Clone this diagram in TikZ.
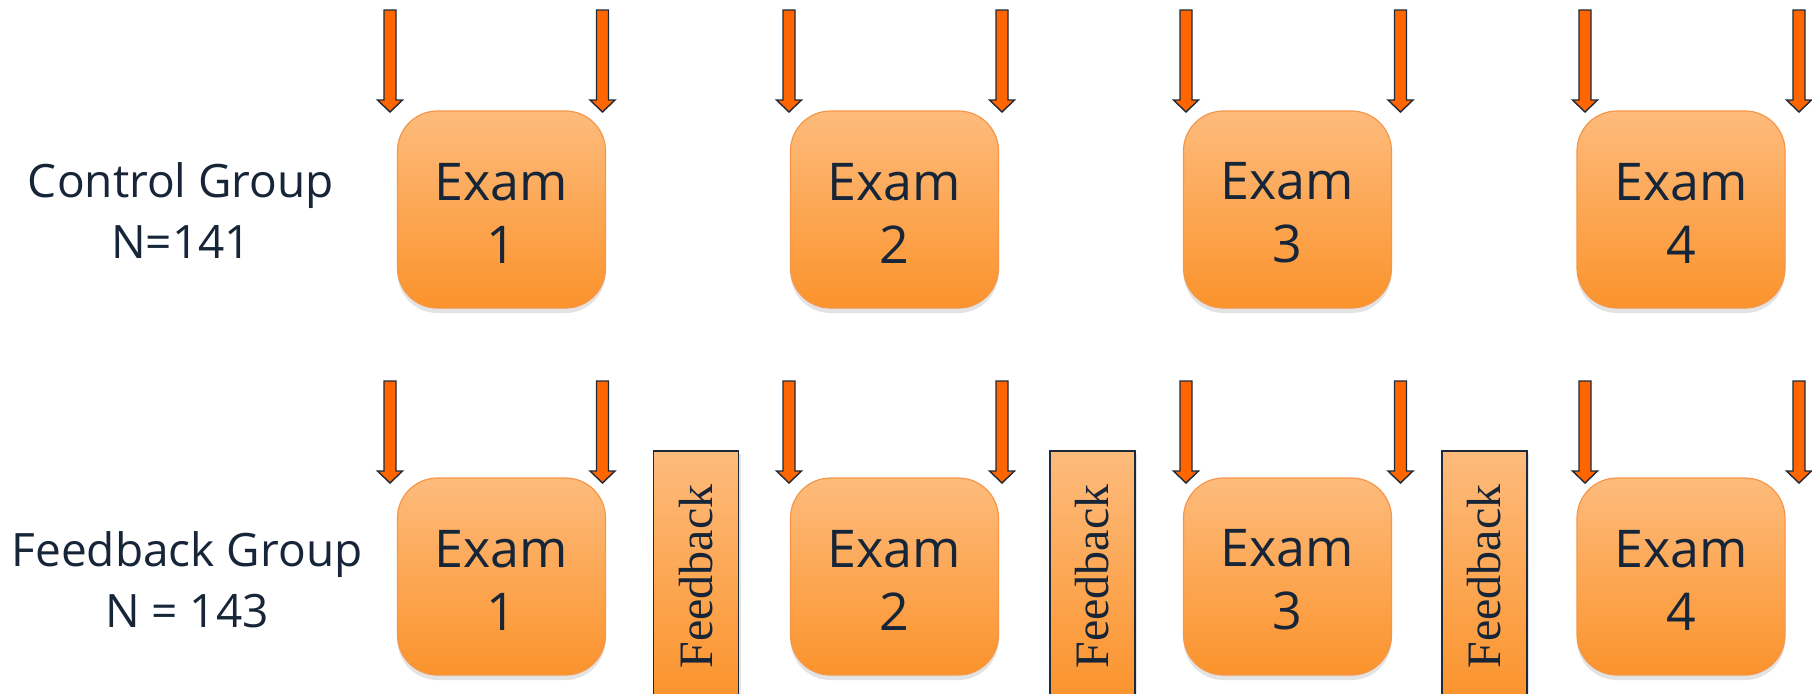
\documentclass[tikz,border=0pt]{standalone}
\usepackage{fontspec}
\setmainfont{Open Sans}
\newfontfamily\fbfont{Liberation Serif}
\usetikzlibrary{shadows}

\definecolor{ink}{RGB}{23,37,56}
\definecolor{examtop}{RGB}{253,187,124}
\definecolor{exambot}{RGB}{251,147,44}
\definecolor{examedge}{RGB}{246,150,72}
\definecolor{arrowfill}{RGB}{255,102,0}
\definecolor{arrowedge}{RGB}{30,42,58}

% two-line exam caption; the strut lowers the text a little inside the box
\newcommand\examcaption[1]{\rule{0pt}{22.2pt}Exam\\#1}

\tikzset{
  exam/.style={rounded corners=20pt, minimum width=104pt, minimum height=98.5pt,
    top color=examtop, bottom color=exambot, draw=examedge, line width=0.6pt,
    text=ink, align=center, inner sep=0pt,
    font=\fontsize{26}{31.5}\selectfont,
    drop shadow={shadow xshift=0pt, shadow yshift=-2.5pt, opacity=0.22}},
  feedbackbox/.style={minimum width=42.5pt, minimum height=125.5pt,
    top color=examtop, bottom color=exambot, draw=arrowedge, line width=0.8pt,
    text=ink, inner sep=0pt, font=\fbfont\fontsize{24}{24}\selectfont,
    drop shadow={shadow xshift=1pt, shadow yshift=-1.5pt, opacity=0.2}},
  grouplabel/.style={text=ink, align=center, inner sep=0pt,
    font=\fontsize{23}{30.5}\selectfont},
  pics/downarrow/.style={code={
    \filldraw[fill=arrowfill, draw=arrowedge, line width=0.7pt, line join=miter]
      (-6,0) -- (-6,90) -- (-12.5,90) -- (0,102) -- (12.5,90) -- (6,90) -- (6,0) -- cycle;
  }},
}

\begin{document}
\begin{tikzpicture}[x=0.5pt, y=-0.5pt]
  \useasboundingbox (0,0) rectangle (1812,693);
  \clip (0,0) rectangle (1812,693);
  \fill[white] (0,0) rectangle (1812,693);

  % group labels
  \node[grouplabel] (ctrl) at (181,211) {Control Group\\N=141};
  \node[grouplabel] (fbgrp) at (187,580) {Feedback Group\\N = 143};

  % control group: four exams
  \node[exam] (c1) at (501.5,209.5) {\examcaption{1}};
  \node[exam] (c2) at (894.5,209.5) {\examcaption{2}};
  \node[exam] (c3) at (1287.5,209.5) {\examcaption{3}};
  \node[exam] (c4) at (1681,209.5) {\examcaption{4}};

  % feedback group: four exams with feedback in between
  \node[exam] (f1) at (501.5,576.5) {\examcaption{1}};
  \node[exam] (f2) at (894.5,576.5) {\examcaption{2}};
  \node[exam] (f3) at (1287.5,576.5) {\examcaption{3}};
  \node[exam] (f4) at (1681,576.5) {\examcaption{4}};

  \node[feedbackbox] (fb1) at (696,576.5) {\rotatebox{90}{Feedback}};
  \node[feedbackbox] (fb2) at (1092.5,576.5) {\rotatebox{90}{Feedback}};
  \node[feedbackbox] (fb3) at (1484.5,576.5) {\rotatebox{90}{Feedback}};

  % arrows marking start and end of each exam period
  \foreach \ax in {390,602.5,789,1002,1186,1400.5,1585,1799} {
    \pic at (\ax,10) {downarrow};
    \pic at (\ax,381) {downarrow};
  }
\end{tikzpicture}
\end{document}
